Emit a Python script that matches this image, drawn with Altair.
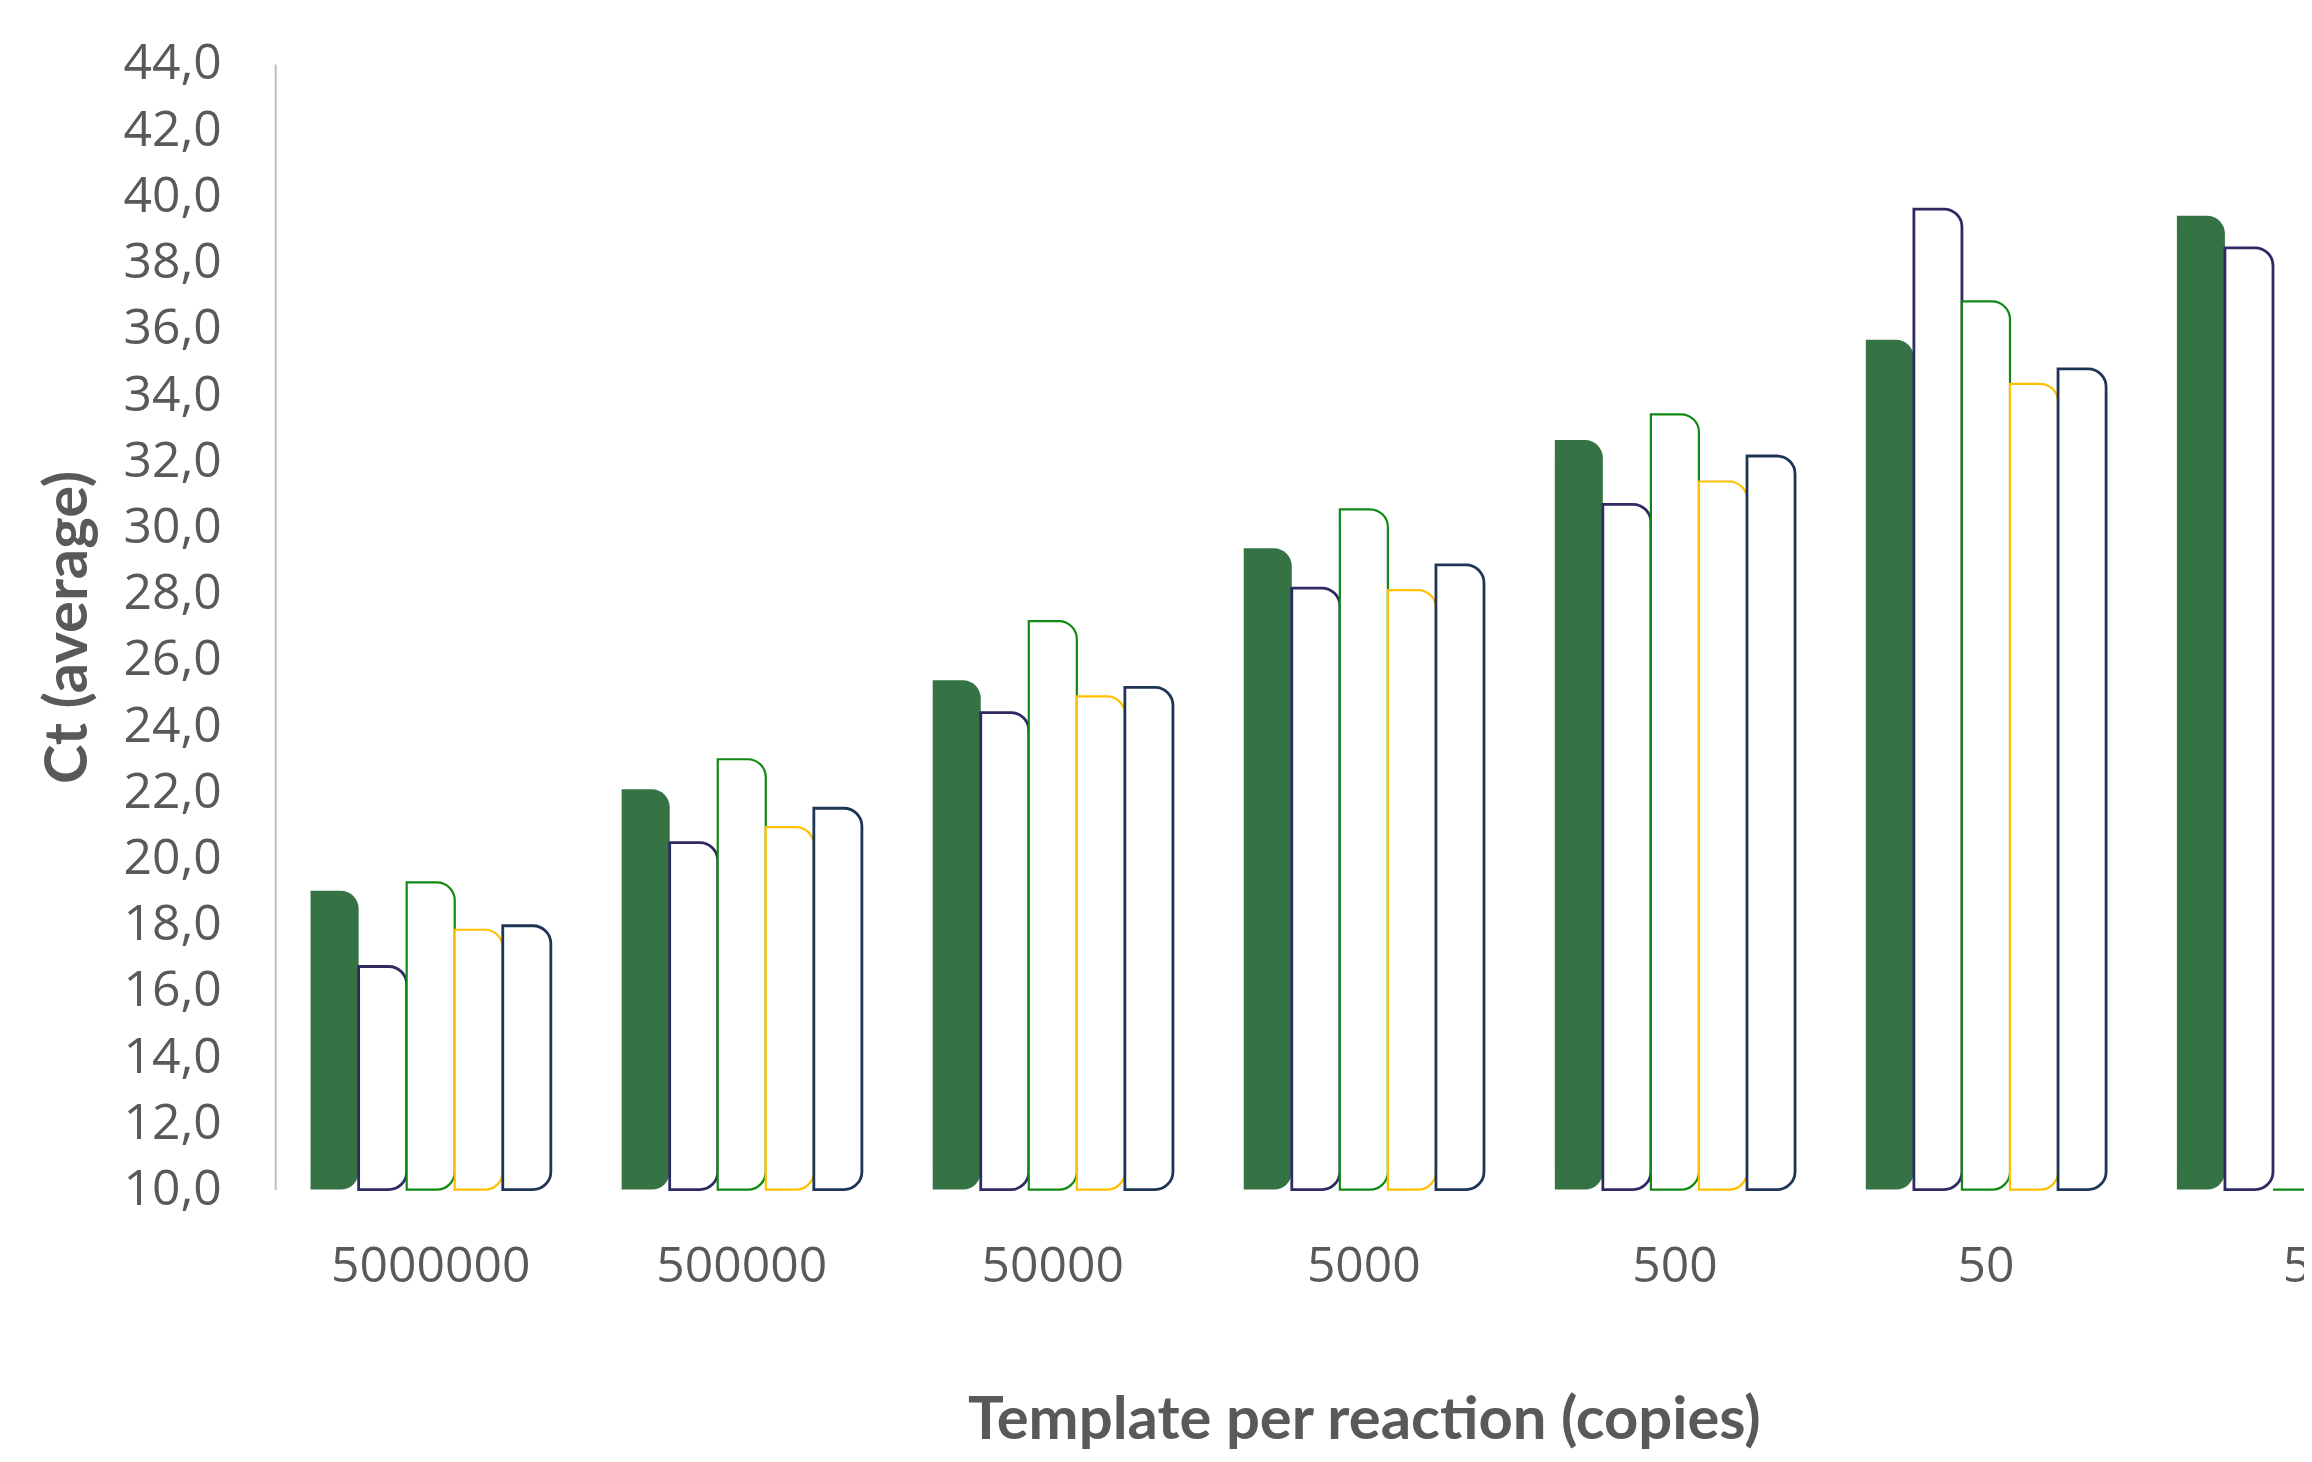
import altair as alt
import pandas as pd

categories = ["5000000", "500000", "50000", "5000", "500", "50", "5"]
series = ["S1", "S2", "S3", "S4", "S5"]
s1 = [19.03, 22.09, 25.39, 29.37, 32.64, 35.67, 39.42]
s2 = [16.74, 20.48, 24.41, 28.17, 30.70, 39.62, 38.45]
s3 = [19.28, 23.00, 27.17, 30.55, 33.42, 36.83, 10.0]
s4 = [17.85, 20.95, 24.90, 28.11, 31.39, 34.34, None]
s5 = [17.97, 21.52, 25.17, 28.87, 32.16, 34.79, None]
y_ticks = list(range(10, 46, 2))

rows = []
for name, vals in zip(series, [s1, s2, s3, s4, s5]):
    for c, v in zip(categories, vals):
        if v is not None:
            rows.append({"cat": c, "series": name, "ct": v})
df = pd.DataFrame(rows)

styles = {
    "S1": dict(fill="#357345", strokeWidth=0),
    "S2": dict(fill="#FFFFFF", stroke="#2D2B62", strokeWidth=2.8),
    "S3": dict(fill="#FFFFFF", stroke="#118811", strokeWidth=2.2),
    "S4": dict(fill="#FFFFFF", stroke="#FFC000", strokeWidth=2.2),
    "S5": dict(fill="#FFFFFF", stroke="#1F3556", strokeWidth=2.8),
}

W = 2035
H = 1129
STEP_RANGE = 2184

base = alt.Chart(df).encode(
    x=alt.X(
        "cat:N",
        sort=categories,
        scale=alt.Scale(domain=categories, range=[0, STEP_RANGE], paddingInner=0.2276, paddingOuter=0.1138),
        axis=alt.Axis(
            title="Template per reaction (copies)",
            domain=False,
            ticks=False,
            labelAngle=0,
            labelLimit=0,
            labelFont="Open Sans",
            labelFontSize=50,
            labelColor="#595959",
            labelPadding=52,
            titleFont="Lato",
            titleFontSize=60,
            titleFontWeight="bold",
            titleColor="#595959",
            titleX=STEP_RANGE / 2,
            titleY=232,
            titleAnchor="middle",
            titleAlign="center",
            titleBaseline="middle",
        ),
    ),
    xOffset=alt.XOffset("series:N", scale=alt.Scale(domain=series, paddingInner=0, paddingOuter=0)),
    y=alt.Y(
        "ct:Q",
        scale=alt.Scale(domain=[10, 44], zero=False, nice=False),
        axis=alt.Axis(
            title="Ct (average)",
            values=y_ticks,
            labelExpr="replace(format(datum.value, '.1f'), '.', ',')",
            grid=False,
            ticks=False,
            domainColor="#BFBFBF",
            domainWidth=2,
            labelFont="Open Sans",
            labelFontSize=50,
            labelColor="#595959",
            labelPadding=54,
            titleFont="Lato",
            titleFontSize=60,
            titleFontWeight="bold",
            titleColor="#595959",
            titleAngle=-90,
            titleX=-207,
            titleY=H / 2,
            titleAlign="center",
            titleBaseline="middle",
        ),
    ),
    y2=alt.datum(10),
)

layers = []
for s in series:
    layers.append(
        base.transform_filter(alt.datum.series == s).mark_rect(
            cornerRadiusTopRight=18,
            cornerRadiusBottomRight=18,
            **styles[s],
        )
    )

chart = alt.layer(*layers).properties(
    width=W,
    height=H,
    autosize=alt.AutoSizeParams(type="none"),
    padding={"left": 268, "top": 54, "right": 0, "bottom": 270},
).configure_view(stroke=None)

chart.save("out.html", embed_options={"renderer": "svg", "actions": False})
